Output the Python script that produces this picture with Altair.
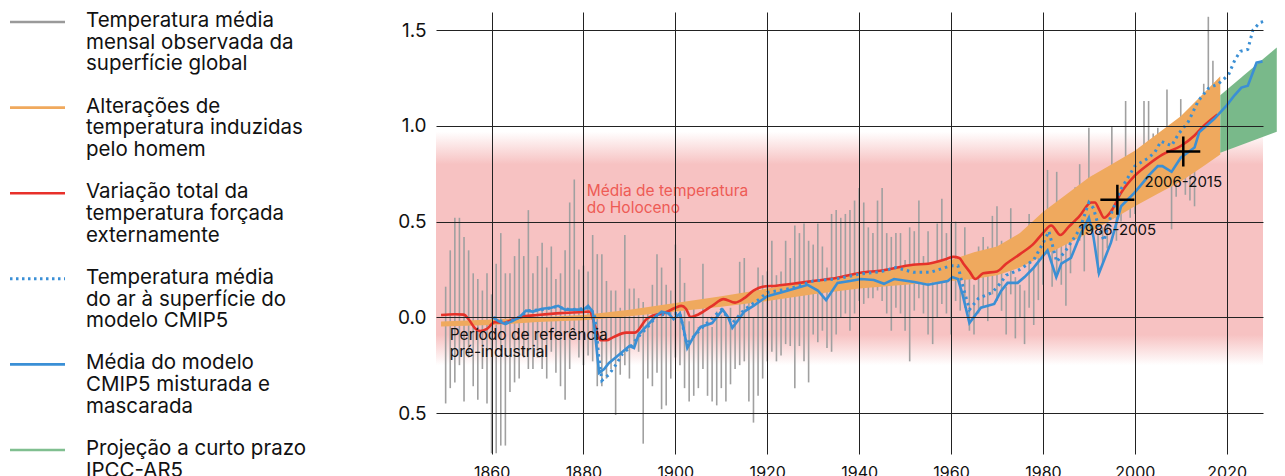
import altair as alt
import pandas as pd

FONT = "Inter"

# ---------------- data ----------------
obs_years = list(range(1850, 2018))
obs_hi = [0.16, 0.35, 0.52, 0.52, 0.42, 0.35, 0.23, 0.20, 0.14, 0.23,
          0.12, 0.28, 0.44, 0.23, 0.23, 0.32, 0.41, 0.32, 0.56, 0.23,
          0.32, 0.39, 0.26, 0.37, 0.20, 0.23, 0.35, 0.60, 0.72, 0.25,
          0.27, 0.24, 0.43, 0.33, 0.33, 0.19, 0.14, 0.14, 0.05, 0.43,
          0.15, 0.15, 0.10, 0.08, 0.03, 0.17, 0.33, 0.26, 0.17, 0.14,
          0.38, 0.31, 0.18, -0.02, 0.085, -0.05, 0.28, 0.00, -0.05, 0.03,
          0.01, 0.00, 0.05, 0.00, 0.29, 0.31, 0.085, 0.00, 0.26, 0.22,
          0.24, 0.40, 0.22, 0.24, 0.40, 0.31, 0.48, 0.44, 0.49, 0.40,
          0.38, 0.49, 0.37, 0.26, 0.54, 0.56, 0.52, 0.54, 0.56, 0.61,
          0.675, 0.60, 0.47, 0.44, 0.61, 0.675, 0.44, 0.42, 0.44, 0.44,
          0.30, 0.47, 0.45, 0.61, 0.32, 0.45, 0.26, 0.49, 0.62, 0.44,
          0.49, 0.50, 0.30, 0.47, 0.26, 0.17, 0.37, 0.42, 0.37, 0.53,
          0.58, 0.40, 0.16, 0.57, 0.21, 0.17, 0.14, 0.54, 0.26, 0.38,
          0.54, 0.77, 0.43, 0.76, 0.38, 0.43, 0.43, 0.68, 0.80, 0.52,
          0.99, 0.74, 0.43, 0.47, 0.61, 1.00, 0.68, 0.82, 1.13, 0.64,
          0.68, 0.87, 1.13, 1.13, 0.96, 0.99, 0.97, 1.19, 0.82, 0.99,
          1.14, 0.94, 0.99, 0.99, 1.08, 1.22, 1.57, 1.34]
obs_lo = [-0.45, -0.37, -0.34, -0.25, -0.44, -0.21, -0.36, -0.43, -0.27, -0.45,
          -0.71, -0.71, -0.67, -0.67, -0.39, -0.34, -0.32, -0.21, -0.27, -0.27,
          -0.21, -0.27, -0.32, -0.18, -0.29, -0.36, -0.43, -0.27, -0.10, -0.21,
          -0.25, -0.20, -0.23, -0.36, -0.36, -0.32, -0.27, -0.51, -0.30, -0.25,
          -0.32, -0.16, -0.18, -0.66, -0.32, -0.36, -0.29, -0.48, -0.46, -0.32,
          -0.21, -0.25, -0.37, -0.44, -0.41, -0.37, -0.27, -0.41, -0.44, -0.46,
          -0.37, -0.44, -0.35, -0.27, -0.25, -0.23, -0.44, -0.55, -0.41, -0.32,
          -0.23, -0.18, -0.23, -0.20, -0.14, -0.15, -0.37, -0.15, -0.23, -0.34,
          -0.09, -0.13, -0.07, -0.16, -0.18, -0.09, 0.00, 0.02, -0.07, 0.02,
          0.085, 0.07, 0.10, 0.10, 0.14, 0.085, 0.02, -0.07, 0.05, 0.02,
          -0.07, -0.23, 0.035, 0.10, 0.02, -0.09, -0.14, 0.00, 0.07, 0.02,
          -0.09, 0.085, 0.035, 0.05, -0.07, -0.09, 0.02, 0.05, -0.02, 0.12,
          0.085, 0.034, -0.09, 0.12, -0.11, 0.00, -0.14, 0.05, -0.04, 0.09,
          0.17, 0.33, 0.16, 0.23, 0.17, 0.06, 0.23, 0.43, 0.40, 0.24,
          0.45, 0.54, 0.23, 0.28, 0.36, 0.54, 0.40, 0.50, 0.68, 0.52,
          0.54, 0.64, 0.68, 0.75, 0.68, 0.75, 0.68, 0.75, 0.46, 0.63,
          0.75, 0.64, 0.61, 0.58, 0.82, 0.92, 0.99, 0.96]

human_years = [1849, 1860, 1870, 1880, 1890, 1900, 1910, 1920, 1930, 1940, 1950,
               1960, 1965, 1970, 1975, 1980, 1985, 1990, 1995, 2000, 2005, 2010,
               2015, 2018.6]
human_lo = [-0.048, -0.04, -0.025, -0.015, 0.005, 0.03, 0.055, 0.085, 0.12, 0.15,
            0.17, 0.19, 0.2, 0.22, 0.26, 0.32, 0.38, 0.44, 0.51, 0.58, 0.645,
            0.71, 0.79, 0.85]
human_hi = [-0.022, -0.012, 0.0, 0.012, 0.04, 0.075, 0.11, 0.15, 0.19, 0.23,
            0.265, 0.30, 0.34, 0.37, 0.44, 0.55, 0.64, 0.73, 0.80, 0.87, 0.96,
            1.05, 1.17, 1.26]

proj_years = [2018.6, 2030.9]
proj_lo = [0.86, 0.97]
proj_hi = [1.16, 1.41]

forced_years = [1849, 1852, 1854, 1855, 1856.5, 1857.5, 1859, 1860.7, 1862.5, 1864.7,
                1867, 1870, 1875, 1880, 1881.3, 1882.6, 1883.7, 1885, 1886.4, 1889.3,
                1891.2, 1893.7, 1895.2, 1897.4, 1900, 1901.3, 1902.3, 1903.3, 1905,
                1908, 1910.5, 1913, 1915, 1917, 1919, 1922, 1927, 1930, 1935, 1940,
                1945, 1951.7, 1955, 1959, 1960.5, 1961.8, 1962.7, 1964, 1965.3, 1967,
                1970, 1972, 1975, 1978, 1980, 1981.8, 1983.8, 1985.5, 1988, 1990.5,
                1991.3, 1992.3, 1993.3, 1995, 1997, 2000, 2003, 2006, 2010, 2013,
                2015, 2018]
forced_v = [0.012, 0.016, 0.014, -0.01, -0.06, -0.072, -0.06, -0.025, -0.03, -0.01,
            0.005, 0.012, 0.022, 0.028, 0.03, -0.05, -0.12, -0.12, -0.105, -0.08,
            -0.08, -0.01, 0.01, 0.02, 0.05, 0.06, 0.045, 0.002, 0.015,
            0.06, 0.095, 0.077, 0.10, 0.14, 0.16, 0.165, 0.18, 0.19, 0.205, 0.232,
            0.245, 0.275, 0.28, 0.305, 0.316, 0.31, 0.28, 0.24, 0.20, 0.23,
            0.24, 0.28, 0.33, 0.385, 0.44, 0.48, 0.43, 0.47, 0.53, 0.60,
            0.60, 0.56, 0.52, 0.56, 0.65, 0.74, 0.80, 0.85, 0.895, 0.95,
            1.0, 1.06]

cmip_years = [1860.3, 1861.5, 1863, 1864.5, 1866, 1867.5, 1869, 1871, 1873, 1874.5,
              1876, 1878, 1880, 1881, 1882, 1882.8, 1883.4, 1884.5, 1885.5, 1887,
              1888.5, 1890, 1891, 1892, 1894, 1895.5, 1897, 1898.5, 1899.6, 1901,
              1901.8, 1902.6, 1904, 1905.5, 1908, 1910.3, 1911.5, 1912.4, 1913.5, 1915,
              1917, 1920, 1923, 1926.6, 1928.8, 1931, 1932.8, 1935.3, 1938, 1940.4,
              1943.2, 1945.4, 1947.6, 1952, 1955, 1959.3, 1960.3, 1961.5, 1962.5, 1964,
              1966.5, 1969.4, 1970.9, 1972.3, 1974.5, 1976, 1978, 1981, 1982.9, 1984,
              1986.1, 1988.3, 1990, 1991, 1992.2, 1994.8, 1997, 1999.9, 2002, 2003,
              2005, 2006, 2008, 2010, 2013, 2014, 2017.3, 2020, 2021.7, 2023.2,
              2024.6, 2026.5, 2027.8]
cmip_v = [0.0, -0.02, -0.035, -0.02, 0.0, 0.035, 0.03, 0.045, 0.05, 0.06,
          0.04, 0.04, 0.04, 0.06, 0.03, -0.15, -0.29, -0.27, -0.24, -0.21,
          -0.18, -0.15, -0.16, -0.09, -0.04, 0.0, 0.03, 0.02, -0.01, 0.02,
          -0.06, -0.16, -0.10, -0.05, -0.03, 0.04, 0.0, -0.055, -0.02, 0.03,
          0.06, 0.11, 0.13, 0.155, 0.17, 0.14, 0.09, 0.18, 0.19, 0.20,
          0.195, 0.175, 0.20, 0.185, 0.17, 0.19, 0.21, 0.20, 0.12, -0.03,
          0.05, 0.07, 0.138, 0.18, 0.18, 0.21, 0.26, 0.35, 0.21, 0.28,
          0.31, 0.44, 0.52, 0.42, 0.23, 0.39, 0.58, 0.65, 0.71, 0.74,
          0.79, 0.79, 0.76, 0.834, 0.887, 0.966, 1.037, 1.107, 1.16, 1.20,
          1.21, 1.33, 1.337]

sat_years = [1860.5, 1863, 1866, 1868, 1871, 1874, 1877, 1880, 1881.5, 1882.5,
             1883.3, 1884, 1885.5, 1887, 1888.5, 1890, 1892, 1894, 1896, 1899,
             1901, 1902.5, 1904, 1906, 1910, 1912.4, 1915, 1918, 1920, 1925,
             1930, 1935, 1940, 1945, 1948, 1951.8, 1955.5, 1960, 1961.5, 1962.6,
             1964, 1966, 1969, 1970.8, 1972, 1975, 1978, 1980.3, 1981.3, 1983,
             1985, 1988, 1990, 1991, 1992.3, 1993.3, 1995, 1997, 2000, 2002.8,
             2004.3, 2005.7, 2008, 2009.5, 2011.6, 2013.8, 2016, 2018.2, 2020.4, 2021.8,
             2023, 2024.6, 2025.7, 2027.2, 2028]
sat_v = [0.0, -0.03, 0.0, 0.035, 0.04, 0.055, 0.04, 0.045, 0.05, 0.0,
         -0.20, -0.33, -0.30, -0.25, -0.19, -0.16, -0.10, -0.05, 0.01, 0.02,
         0.02, -0.14, -0.10, -0.05, 0.04, -0.03, 0.04, 0.09, 0.13, 0.15,
         0.19, 0.20, 0.225, 0.24, 0.26, 0.235, 0.235, 0.27, 0.27, 0.16,
         0.04, 0.10, 0.13, 0.18, 0.22, 0.25, 0.30, 0.40, 0.45, 0.29,
         0.35, 0.46, 0.60, 0.57, 0.46, 0.40, 0.55, 0.67, 0.79, 0.83,
         0.86, 0.92, 0.896, 0.958, 1.02, 1.13, 1.196, 1.22, 1.267, 1.346,
         1.39, 1.40, 1.50, 1.54, 1.545]

holocene_band = [0.97, -0.25]

period_years = [1996.2, 2010.55]
period_v = [0.614, 0.866]
period_labels = ["1986-2005", "2006-2015"]

note_years = [1880.7, 1850.9]
note_v = [0.695, -0.055]
note_text = ["Média de temperatura\ndo Holoceno", "Período de referência\npré-industrial"]
note_colors = ["#ee5b55", "#111111"]

x_ticks = [1860, 1880, 1900, 1920, 1940, 1960, 1980, 2000, 2020]
y_ticks = [-0.5, 0.0, 0.5, 1.0, 1.5]

legend_items = [
    ["Temperatura média", "mensal observada da", "superfície global"],
    ["Alterações de", "temperatura induzidas", "pelo homem"],
    ["Variação total da", "temperatura forçada", "externamente"],
    ["Temperatura média", "do ar à superfície do", "modelo CMIP5"],
    ["Média do modelo", "CMIP5 misturada e", "mascarada"],
    ["Projeção a curto prazo", "IPCC-AR5"],
]
legend_colors = ["#9a9a9a", "#f0a95d", "#e8302a", "#3a8fd6", "#3a8fd6", "#80bf90"]
legend_dotted = [False, False, False, True, False, False]

# colours
GRAY = "#a0a0a0"
ORANGE = "#efa95e"
GREEN = "#79b98a"
RED = "#e5322a"
BLUE = "#3b8fd4"
PINK = "#f7c2c2"

W, H = 827, 442

# ---------------- frames ----------------
obs_df = pd.DataFrame({"year": obs_years, "lo": obs_lo, "hi": obs_hi})
human_df = pd.DataFrame({"year": human_years, "lo": human_lo, "hi": human_hi})
proj_df = pd.DataFrame({"year": proj_years, "lo": proj_lo, "hi": proj_hi})
forced_df = pd.DataFrame({"year": forced_years, "v": forced_v})
cmip_df = pd.DataFrame({"year": cmip_years, "v": cmip_v})
sat_df = pd.DataFrame({"year": sat_years, "v": sat_v})
holo_df = pd.DataFrame({"top": [holocene_band[0]], "bottom": [holocene_band[1]]})
period_df = pd.DataFrame({"year": period_years, "v": period_v, "label": period_labels})
note_df = pd.DataFrame({"year": note_years, "v": note_v, "t": note_text, "c": note_colors})

xs = alt.Scale(domain=[1847.9, 2027.9], nice=False, zero=False)
ys = alt.Scale(domain=[-0.714, 1.595], nice=False, zero=False)
xaxis = alt.Axis(values=x_ticks, format="d", grid=True, ticks=False, domain=False,
                 labelFontSize=16, labelPadding=10, gridColor="#222222", gridWidth=1,
                 gridOpacity=1, labelColor="#111111", labelFont=FONT, zindex=1, title=None)
yaxis = alt.Axis(values=y_ticks, labelExpr="format(abs(datum.value), '.1f')", grid=True,
                 ticks=False, domain=False, labelFontSize=19, labelPadding=10,
                 gridColor="#222222", gridWidth=1, gridOpacity=1, labelColor="#111111",
                 labelFont=FONT, zindex=1, title=None)


def X(f="year"):
    return alt.X(f"{f}:Q", scale=xs, axis=xaxis, title=None)


def Y(f):
    return alt.Y(f"{f}:Q", scale=ys, axis=yaxis, title=None)


grad = alt.LinearGradient(
    gradient="linear",
    stops=[alt.GradientStop(color="#ffffff", offset=0),
           alt.GradientStop(color=PINK, offset=0.14),
           alt.GradientStop(color=PINK, offset=0.87),
           alt.GradientStop(color="#ffffff", offset=1)],
    x1=0, x2=0, y1=0, y2=1)

band = alt.Chart(holo_df).mark_rect(fill=grad, strokeWidth=0).encode(
    x=alt.value(0), x2=alt.value(W), y=Y("top"), y2="bottom:Q")

bars = alt.Chart(obs_df).mark_rule(color=GRAY, strokeWidth=1.6).encode(
    x=X(), y=Y("lo"), y2="hi:Q")

human = alt.Chart(human_df).mark_area(color=ORANGE, opacity=1).encode(
    x=X(), y=Y("lo"), y2="hi:Q")

proj = alt.Chart(proj_df).mark_area(color=GREEN, opacity=1).encode(
    x=X(), y=Y("lo"), y2="hi:Q")

forced = alt.Chart(forced_df).mark_line(color=RED, strokeWidth=2.6, interpolate="monotone").encode(
    x=X(), y=Y("v"))

sat = alt.Chart(sat_df).mark_line(color=BLUE, strokeWidth=3, strokeDash=[2.5, 4]).encode(
    x=X(), y=Y("v"))

cmip = alt.Chart(cmip_df).mark_line(color=BLUE, strokeWidth=2.6).encode(
    x=X(), y=Y("v"))

crosses = alt.Chart(period_df).mark_point(
    shape="M-1,0L1,0M0,-0.88L0,0.88", size=1156, filled=False, stroke="#000000",
    strokeWidth=2.5, opacity=1).encode(x=X(), y=Y("v"))

cross_lbl = alt.Chart(period_df).mark_text(
    dy=30, fontSize=15, font=FONT, color="#111111", baseline="middle", align="center").encode(
    x=X(), y=Y("v"), text="label:N")

notes = alt.Chart(note_df).mark_text(
    align="left", baseline="top", lineBreak="\n", fontSize=15.5, lineHeight=17, font=FONT).encode(
    x=X(), y=Y("v"), text="t:N", color=alt.Color("c:N", scale=None))

main = alt.layer(band, bars, human, proj, forced, sat, cmip, crosses, cross_lbl, notes).properties(
    width=W, height=H)

# ---------------- legend panel ----------------
rows_sym, rows_txt = [], []
for i, lines in enumerate(legend_items):
    y0 = 9 + 85.6 * i
    rows_sym.append({"py": y0 + 1, "c": legend_colors[i], "dot": legend_dotted[i]})
    for j, line in enumerate(lines):
        rows_txt.append({"py": y0 + 21.7 * j, "t": line})
sym_df = pd.DataFrame(rows_sym)
txt_df = pd.DataFrame(rows_txt)

leg_solid = alt.Chart(sym_df[~sym_df["dot"]]).mark_rule(strokeWidth=2.6).encode(
    x=alt.value(2), x2=alt.value(57), y=alt.Y("py:Q", scale=None, axis=None),
    color=alt.Color("c:N", scale=None))
leg_dot = alt.Chart(sym_df[sym_df["dot"]]).mark_rule(strokeWidth=3, strokeDash=[2.5, 3.5]).encode(
    x=alt.value(2), x2=alt.value(57), y=alt.Y("py:Q", scale=None, axis=None),
    color=alt.Color("c:N", scale=None))
leg_txt = alt.Chart(txt_df).mark_text(
    align="left", baseline="middle", fontSize=20.5, font=FONT, color="#111111").encode(
    x=alt.value(78), y=alt.Y("py:Q", scale=None, axis=None), text="t:N")

legend = alt.layer(leg_solid, leg_dot, leg_txt).properties(width=340, height=H)

chart = alt.hconcat(legend, main, spacing=88, bounds="flush").properties(
    padding={"left": 0, "top": 3, "right": 0, "bottom": 0}
).configure(font=FONT).configure_view(stroke=None)

chart.save("out.html", embed_options={"renderer": "svg", "actions": False})
